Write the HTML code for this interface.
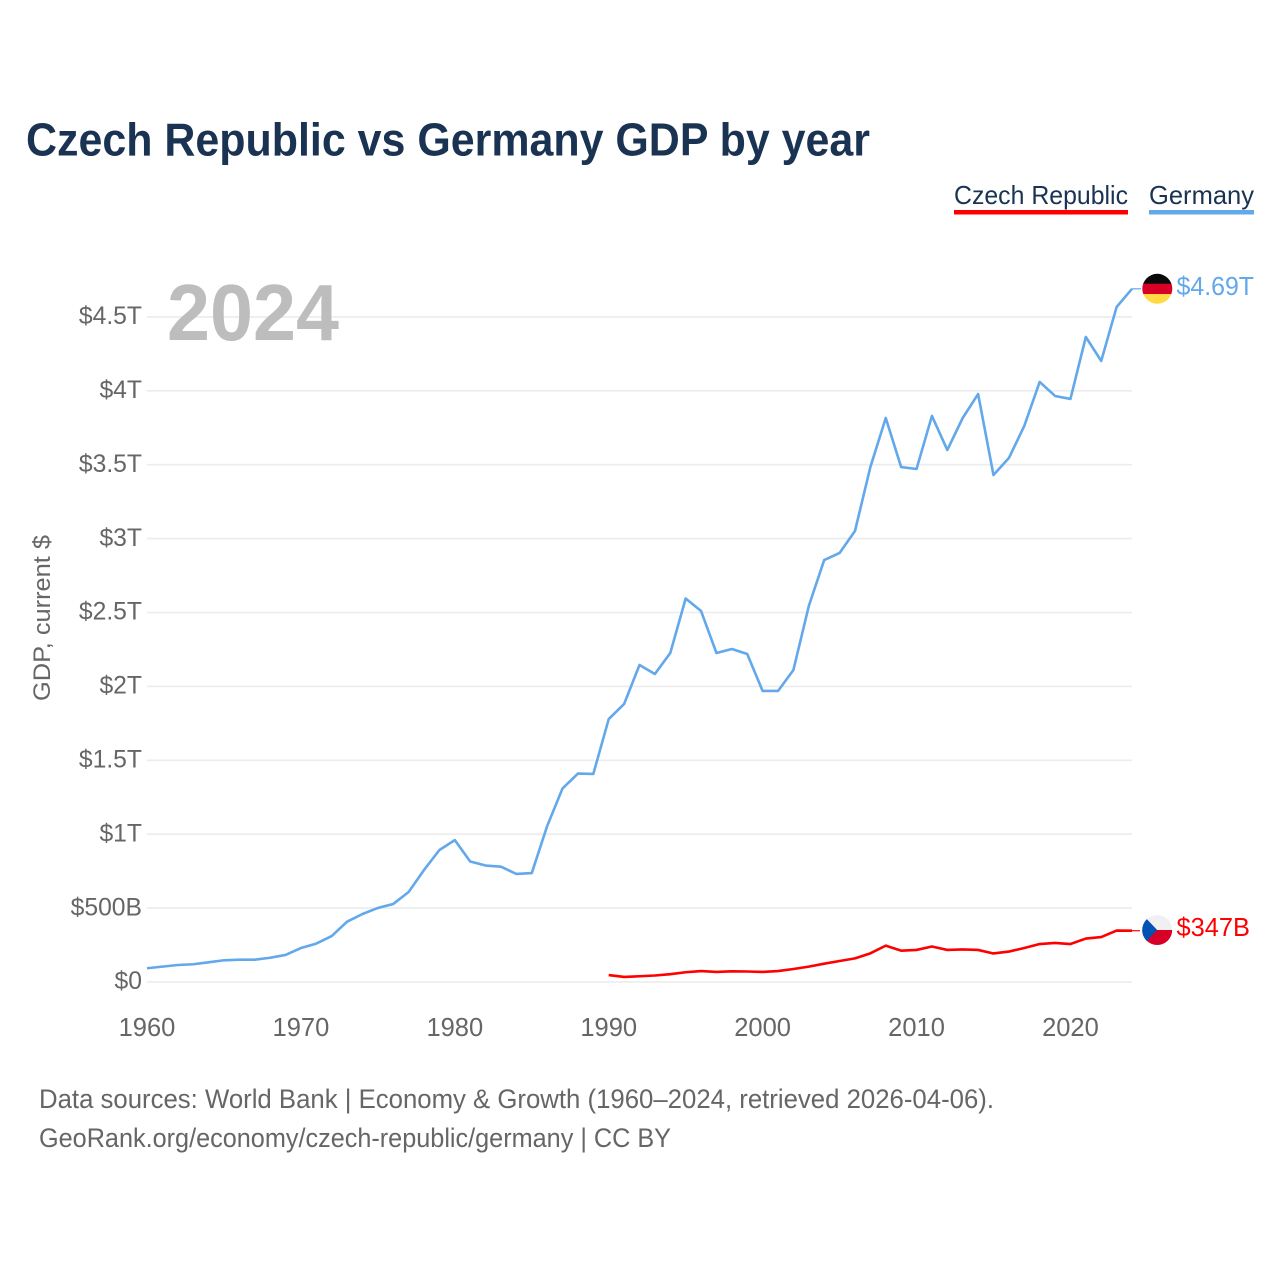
<!DOCTYPE html>
<html lang="en">
<head>
<meta charset="utf-8">
<title>Czech Republic vs Germany GDP by year</title>
<style>
html,body{margin:0;padding:0;background:#fff;width:1280px;height:1280px;overflow:hidden}
svg{display:block;font-family:"Liberation Sans",sans-serif}
</style>
</head>
<body>
<svg id="chart" width="1280" height="1280" viewBox="0 0 1280 1280" xmlns="http://www.w3.org/2000/svg">
  <defs>
    <clipPath id="clip-de"><circle cx="1157.3" cy="288.8" r="15"/></clipPath>
    <clipPath id="clip-cz"><circle cx="1157.2" cy="930" r="15"/></clipPath>
  </defs>
  <text x="26" y="155.5" font-size="46" font-weight="700" fill="#1a3352" textLength="844" lengthAdjust="spacingAndGlyphs">Czech Republic vs Germany GDP by year</text>

  <g>
    <text x="954" y="204" font-size="26" fill="#1a3352" textLength="174" lengthAdjust="spacingAndGlyphs">Czech Republic</text>
    <rect x="954" y="210" width="174" height="4.5" fill="#ff0000"/>
  </g>
  <g>
    <text x="1149" y="204" font-size="26" fill="#1a3352" textLength="105" lengthAdjust="spacingAndGlyphs">Germany</text>
    <rect x="1149" y="210" width="105" height="4.5" fill="#62a8ea"/>
  </g>

  <g id="grid"></g>
  <g id="y-ticks"></g>
  <g id="x-ticks"></g>

  <text x="339" y="340" font-size="80" font-weight="700" fill="#bdbdbd" text-anchor="end" textLength="172" lengthAdjust="spacingAndGlyphs">2024</text>

  <text transform="translate(50,618) rotate(-90)" font-size="24" fill="#666" text-anchor="middle" textLength="166" lengthAdjust="spacingAndGlyphs">GDP, current $</text>

  <g id="series"></g>

  <g clip-path="url(#clip-de)">
    <rect x="1142" y="273" width="31" height="11" fill="#0a0a0a"/>
    <rect x="1142" y="283.7" width="31" height="10.3" fill="#d80027"/>
    <rect x="1142" y="294" width="31" height="11" fill="#ffda44"/>
  </g>
  <g clip-path="url(#clip-cz)">
    <rect x="1142" y="914" width="31" height="16" fill="#f0f0f0"/>
    <rect x="1142" y="930" width="31" height="16" fill="#d80027"/>
    <polygon points="1146.7,919 1157.2,930 1146.7,941 1142,946 1142,914" fill="#0052b4"/>
  </g>

  <text x="1176.5" y="295" font-size="25.5" fill="#62a8ea" textLength="77.5" lengthAdjust="spacingAndGlyphs">$4.69T</text>
  <text x="1176.5" y="936" font-size="25.5" fill="#ff0000" textLength="73.5" lengthAdjust="spacingAndGlyphs">$347B</text>

  <text x="39" y="1108" font-size="26.5" fill="#666" textLength="955" lengthAdjust="spacingAndGlyphs">Data sources: World Bank | Economy &amp; Growth (1960–2024, retrieved 2026-04-06).</text>
  <text x="39" y="1147" font-size="26.5" fill="#666" textLength="632" lengthAdjust="spacingAndGlyphs">GeoRank.org/economy/czech-republic/germany | CC BY</text>
</svg>
<script>
const startYear = 1960;
const endYear = 2024;
const yTickValues = [0, 0.5, 1, 1.5, 2, 2.5, 3, 3.5, 4, 4.5];
const yTickLabels = ["$0", "$500B", "$1T", "$1.5T", "$2T", "$2.5T", "$3T", "$3.5T", "$4T", "$4.5T"];
const xTickYears = [1960, 1970, 1980, 1990, 2000, 2010, 2020];
const germanyStartYear = 1960;
const germanyGdpTrillions = [0.093, 0.104, 0.115, 0.120, 0.133, 0.147, 0.151, 0.151, 0.164, 0.183,
  0.230, 0.260, 0.311, 0.408, 0.460, 0.501, 0.528, 0.609, 0.758, 0.893,
  0.960, 0.815, 0.788, 0.780, 0.731, 0.737, 1.055, 1.310, 1.410, 1.408,
  1.779, 1.881, 2.145, 2.084, 2.226, 2.595, 2.510, 2.226, 2.253, 2.219,
  1.969, 1.969, 2.111, 2.544, 2.855, 2.903, 3.051, 3.484, 3.816, 3.484,
  3.471, 3.830, 3.600, 3.816, 3.978, 3.430, 3.545, 3.762, 4.060, 3.965,
  3.945, 4.364, 4.202, 4.567, 4.690];
const czechStartYear = 1990;
const czechGdpBillions = [47, 34, 39, 44, 53, 66, 74, 68, 72, 71,
  68, 74, 88, 104, 124, 142, 160, 194, 246, 212,
  217, 240, 217, 220, 217, 193, 206, 230, 257, 264,
  257, 294, 304, 348, 347];

const svgNS = "http://www.w3.org/2000/svg";
const plotLeft = 147;
const plotRight = 1132;
const plotZero = 982;
const pxPerTrillion = 147.8;
function xScale(year) {
  return plotLeft + (year - startYear) * (plotRight - plotLeft) / (endYear - startYear);
}
function yScale(trillions) {
  return plotZero - trillions * pxPerTrillion;
}
function make(tag, attrs, parent) {
  const el = document.createElementNS(svgNS, tag);
  for (const k in attrs) el.setAttribute(k, attrs[k]);
  parent.appendChild(el);
  return el;
}
const gridGroup = document.getElementById("grid");
const yGroup = document.getElementById("y-ticks");
const xGroup = document.getElementById("x-ticks");
const seriesGroup = document.getElementById("series");

yTickValues.forEach(function (v, i) {
  const line = make("line", {x1: plotLeft, x2: plotRight, y1: yScale(v), y2: yScale(v), stroke: "#ececec", "stroke-width": 1.6}, gridGroup);
  
  
  const label = make("text", {x: 142, y: yScale(v) + 7.2, "font-size": 24.7, fill: "#666", "text-anchor": "end"}, yGroup);
  label.textContent = yTickLabels[i];
  
  
});

xTickYears.forEach(function (year) {
  const label = make("text", {x: xScale(year), y: 1036, "font-size": 25.5, fill: "#666", "text-anchor": "middle"}, xGroup);
  label.textContent = String(year);
  
  
});

function linePoints(values, firstYear, toTrillions) {
  return values.map(function (v, i) {
    return xScale(firstYear + i).toFixed(2) + "," + yScale(toTrillions(v)).toFixed(2);
  }).join(" ");
}
const deLine = make("polyline", {points: linePoints(germanyGdpTrillions, germanyStartYear, function (v) { return v; }), fill: "none", stroke: "#62a8ea", "stroke-width": 2.6, "stroke-linejoin": "round"}, seriesGroup);


const czLine = make("polyline", {points: linePoints(czechGdpBillions, czechStartYear, function (v) { return v / 1000; }), fill: "none", stroke: "#ff0000", "stroke-width": 2.6, "stroke-linejoin": "round"}, seriesGroup);



const deLast = yScale(germanyGdpTrillions[germanyGdpTrillions.length - 1]);
const deLead = make("line", {x1: plotRight, x2: plotRight + 9, y1: deLast, y2: deLast, stroke: "#62a8ea", "stroke-width": 1.2}, seriesGroup);


const czLast = yScale(czechGdpBillions[czechGdpBillions.length - 1] / 1000);
const czLead = make("line", {x1: plotRight, x2: plotRight + 8, y1: czLast, y2: czLast, stroke: "#ff0000", "stroke-width": 1.2}, seriesGroup);


</script>
</body>
</html>
